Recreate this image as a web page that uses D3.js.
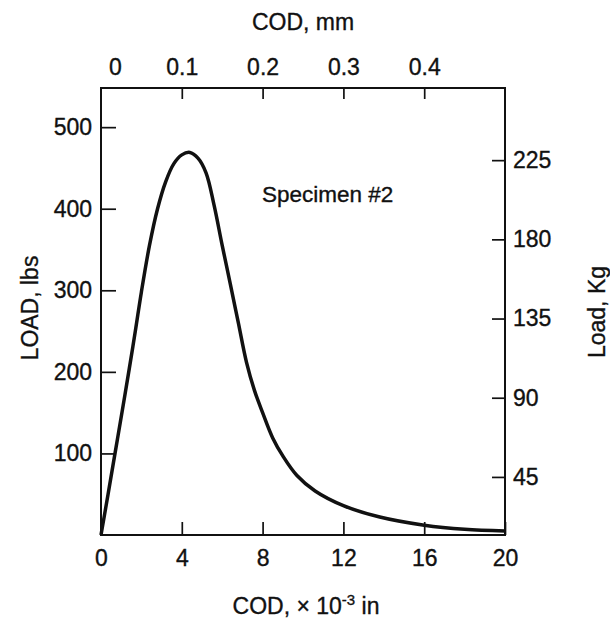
<!DOCTYPE html>
<html lang="en">
<head>
<meta charset="UTF-8">
<title>Load vs COD, Specimen #2</title>
<script src="https://d3js.org/d3.v7.min.js"></script>
<style>
    body { margin: 0; background: white; }
    svg text { font-family: "Liberation Sans", Arial, sans-serif; fill: #111; stroke: #111; stroke-width: 0.35px; }
</style>
</head>
<body>
<svg id="chart"></svg>
<script>
// COD in 10^-3 in, load in lbs
const codIn = [0, 0.35, 0.7, 1.05, 1.4, 1.7, 2.0, 2.4, 2.8, 3.2, 3.6, 4.0, 4.4, 4.8, 5.2, 5.6, 6.0, 6.4, 6.8, 7.2, 7.6, 8.0, 8.5, 9.0, 9.7, 10.6, 12.0, 13.8, 16.0, 18.0, 20.0];
const loadLbs = [0, 50, 101, 152, 204, 250, 298, 355, 400, 433, 455, 466, 469, 462, 444, 404, 355, 308, 260, 212, 177, 150, 119, 97, 73, 54, 36, 22, 12, 7, 5];

const bottomTicks = [0, 4, 8, 12, 16, 20];
const topTicks = [0, 0.1, 0.2, 0.3, 0.4];
const leftTicks = [100, 200, 300, 400, 500];
const rightTicks = [45, 90, 135, 180, 225];

const width = 610, height = 631;
const margin = { top: 88, right: 105, bottom: 96, left: 101 };

const svg = d3.select('#chart').attr('width', width).attr('height', height);

const x = d3.scaleLinear().domain([0, 20]).range([margin.left, width - margin.right]);
const xmm = d3.scaleLinear().domain([0, 0.5]).range([margin.left, width - margin.right]);
const y = d3.scaleLinear().domain([0, 548]).range([height - margin.bottom, margin.top]);
// the Kg scale on the original is offset, keep it as drawn
const ykg = d3.scaleLinear().domain([12, 266]).range([height - margin.bottom, margin.top]);

const fontSize = 23;

// frame
svg.append('rect')
    .attr('x', x(0)).attr('y', y(548))
    .attr('width', x(20) - x(0)).attr('height', y(0) - y(548))
    .attr('fill', 'none').attr('stroke', '#111').attr('stroke-width', 2);

// bottom axis
const bottomAxis = svg.append('g')
    .attr('transform', `translate(0,${y(0)})`)
    .call(d3.axisBottom(x).tickValues(bottomTicks).tickSize(-13).tickPadding(15).tickFormat(d3.format('d')));

// top axis
const topAxis = svg.append('g')
    .attr('transform', `translate(0,${y(548)})`)
    .call(d3.axisTop(xmm).tickValues(topTicks).tickSize(-11).tickPadding(13).tickFormat(d => d === 0 ? '0' : d3.format('.1f')(d)));
topAxis.selectAll('.tick').filter(d => d === 0).select('line').remove();
topAxis.selectAll('.tick').filter(d => d === 0).select('text').attr('dx', 14);

// left axis
const leftAxis = svg.append('g')
    .attr('transform', `translate(${x(0)},0)`)
    .call(d3.axisLeft(y).tickValues(leftTicks).tickSize(-15).tickPadding(9));

// right axis
const rightAxis = svg.append('g')
    .attr('transform', `translate(${x(20)},0)`)
    .call(d3.axisRight(ykg).tickValues(rightTicks).tickSize(-13).tickPadding(8));

[bottomAxis, topAxis, leftAxis, rightAxis].forEach(a => {
    a.select('.domain').remove();
    a.selectAll('.tick line').attr('stroke', '#111').attr('stroke-width', 1.7);
    a.selectAll('.tick text').attr('font-size', fontSize).attr('fill', '#111')
        .style('font-family', '"Liberation Sans", Arial, sans-serif');
});

// curve
const points = codIn.map((c, i) => [c, loadLbs[i]]);
const line = d3.line()
    .x(d => x(d[0]))
    .y(d => y(d[1]))
    .curve(d3.curveCatmullRom.alpha(0.5));

svg.append('path')
    .datum(points)
    .attr('d', line)
    .attr('fill', 'none')
    .attr('stroke', '#111')
    .attr('stroke-width', 3.5)
    .attr('stroke-linejoin', 'round');

// labels
svg.append('text')
    .attr('x', 303).attr('y', 30)
    .attr('text-anchor', 'middle')
    .attr('font-size', fontSize)
    .text('COD, mm');

const bottomTitle = svg.append('text')
    .attr('x', 306).attr('y', 614)
    .attr('text-anchor', 'middle')
    .attr('font-size', fontSize);
bottomTitle.append('tspan').text('COD,  \u00d7 10');
bottomTitle.append('tspan').attr('dy', -9).attr('font-size', 15).text('-3');
bottomTitle.append('tspan').attr('dy', 9).text(' in');

svg.append('text')
    .attr('transform', 'translate(38,308) rotate(-90)')
    .attr('text-anchor', 'middle')
    .attr('font-size', fontSize)
    .text('LOAD, lbs');

svg.append('text')
    .attr('transform', 'translate(605,312) rotate(-90)')
    .attr('text-anchor', 'middle')
    .attr('font-size', fontSize)
    .text('Load, Kg');

svg.append('text')
    .attr('x', 262).attr('y', 202)
    .attr('font-size', 22.5)
    .text('Specimen #2');
</script>
</body>
</html>
